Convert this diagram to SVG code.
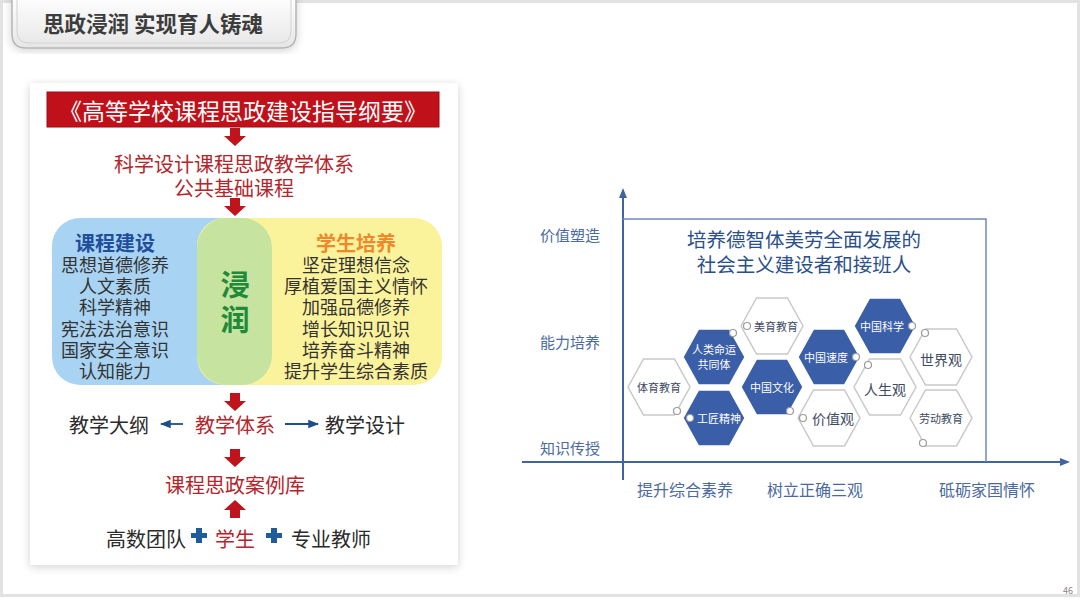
<svg xmlns="http://www.w3.org/2000/svg" width="1080" height="599" viewBox="0 0 1080 599">
<defs>
<style>
text{font-family:"Noto Sans CJK SC","Noto Sans",sans-serif;text-anchor:middle;dominant-baseline:central}
.red{fill:#b3262c;font-size:20px}
.blk{fill:#2b2b2b;font-size:20px}
.item{fill:#333;font-size:18px}
.ax{fill:#4a6aa0;font-size:15px}
.axb{fill:#4a6aa0;font-size:16px}
.hw{fill:#fff;stroke:#c9c9c9;stroke-width:1.5}
.hb{fill:#3a5ea8;stroke:#fff;stroke-width:1.5}
.tw{fill:#3d4a63;font-size:11px}
.tb{fill:#fff;font-size:11px}
.tl{fill:#3d4a63;font-size:14px}
.dot{fill:#fff;stroke:#9a9a9a;stroke-width:1.2}
.ra{fill:#c0141c}
</style>
<linearGradient id="tab" x1="0" y1="0" x2="0" y2="1">
<stop offset="0" stop-color="#ffffff"/><stop offset="1" stop-color="#e6e6e6"/>
</linearGradient>
<filter id="sh" x="-10%" y="-10%" width="120%" height="120%">
<feGaussianBlur in="SourceAlpha" stdDeviation="5"/><feOffset dx="0" dy="2"/>
<feComponentTransfer><feFuncA type="linear" slope="0.18"/></feComponentTransfer>
<feMerge><feMergeNode/><feMergeNode in="SourceGraphic"/></feMerge>
</filter>
<path id="hex" d="M-31,0 L-15.5,-28 L15.5,-28 L31,0 L15.5,28 L-15.5,28 Z"/>
<path id="darr" d="M-5,0 h10 v8 h6 l-11,10 l-11,-10 h6 z"/>
<marker id="bl" viewBox="0 0 10 10" refX="9" refY="5" markerWidth="6" markerHeight="6" orient="auto-start-reverse">
<path d="M0,1 L10,5 L0,9 z" fill="#1f4e8c"/>
</marker>
<marker id="axa" viewBox="0 0 10 10" refX="8" refY="5" markerWidth="5" markerHeight="5" orient="auto">
<path d="M0,1 L10,5 L0,9 z" fill="#3f64a0"/>
</marker>
</defs>

<rect x="0" y="0" width="1080" height="599" fill="#ffffff"/>
<rect x="1.5" y="1.5" width="1077" height="594" fill="none" stroke="#e2e2e2" stroke-width="3"/>

<g id="title">
<path d="M12,-5 H296 V34 Q296,48 282,48 H26 Q12,48 12,34 Z" fill="url(#tab)" stroke="#b5b5b5" stroke-width="1.5" filter="url(#sh)"/>
<path d="M17,-5 V31 Q17,43 29,43 H279 Q291,43 291,31 V-5" fill="none" stroke="#d2d2d2" stroke-width="1"/>
<text x="153" y="22" style="font-size:21.5px;font-weight:bold;fill:#3c3c3c">思政浸润 实现育人铸魂</text>
</g>

<g id="left-panel">
<rect x="30" y="83" width="428" height="482" fill="#fff" filter="url(#sh)"/>
</g>

<g id="banner">
<rect x="47" y="92" width="392" height="35" fill="#c0111a" stroke="#9e0c14" stroke-width="1"/>
<text x="243" y="110" style="font-size:23px;fill:#fff">《高等学校课程思政建设指导纲要》</text>
</g>

<g id="design">
<text class="red" x="234" y="163">科学设计课程思政教学体系</text>
<text class="red" x="234" y="187">公共基础课程</text>
</g>

<g id="course">
<rect x="52" y="218" width="220" height="167" rx="28" fill="#a9d3f2"/>
<text x="115" y="242" style="font-size:20px;font-weight:bold;fill:#1f4e9c">课程建设</text>
<text class="item" x="115" y="264">思想道德修养</text>
<text class="item" x="115" y="285">人文素质</text>
<text class="item" x="115" y="306">科学精神</text>
<text class="item" x="115" y="328">宪法法治意识</text>
<text class="item" x="115" y="349">国家安全意识</text>
<text class="item" x="115" y="370">认知能力</text>
</g>

<g id="student">
<rect x="197" y="218" width="245" height="167" rx="28" fill="#fbf29c"/>
<text x="356" y="242" style="font-size:20px;font-weight:bold;fill:#f0872a">学生培养</text>
<text class="item" x="356" y="264">坚定理想信念</text>
<text class="item" x="356" y="285">厚植爱国主义情怀</text>
<text class="item" x="356" y="306">加强品德修养</text>
<text class="item" x="356" y="328">增长知识见识</text>
<text class="item" x="356" y="349">培养奋斗精神</text>
<text class="item" x="356" y="370">提升学生综合素质</text>
</g>

<g id="immerse">
<rect x="197" y="218" width="75" height="167" rx="30" fill="#c6e4a0"/>
<text x="235" y="283" style="font-size:29px;font-weight:bold;fill:#1e8a3a">浸</text>
<text x="235" y="318" style="font-size:29px;font-weight:bold;fill:#1e8a3a">润</text>
</g>

<g id="system">
<text class="blk" x="109" y="424">教学大纲</text>
<text class="red" x="235" y="424">教学体系</text>
<text class="blk" x="365" y="424">教学设计</text>
</g>

<g id="caselib">
<text class="red" x="235" y="484">课程思政案例库</text>
</g>

<g id="team">
<text class="blk" x="146" y="538">高数团队</text>
<text class="red" x="235" y="538">学生</text>
<text class="blk" x="331" y="538">专业教师</text>
<path d="M196,531 h6 v5 h5 v5 h-5 v5 h-6 v-5 h-5 v-5 h5 z" fill="#1f5c9c" transform="translate(0,-3)"/>
<path d="M271,531 h6 v5 h5 v5 h-5 v5 h-6 v-5 h-5 v-5 h5 z" fill="#1f5c9c" transform="translate(0,-3)"/>
</g>

<g id="connectors">
<use href="#darr" class="ra" x="235" y="128"/>
<use href="#darr" class="ra" x="235" y="198"/>
<use href="#darr" class="ra" x="235" y="393"/>
<use href="#darr" class="ra" x="235" y="449"/>
<use href="#darr" class="ra" transform="translate(235,518) scale(1,-1)"/>
<line x1="183" y1="424" x2="161" y2="424" stroke="#1f4e8c" stroke-width="1.8" marker-end="url(#bl)"/>
<line x1="285" y1="424" x2="318" y2="424" stroke="#1f4e8c" stroke-width="1.8" marker-end="url(#bl)"/>
<line x1="623" y1="480" x2="623" y2="190" stroke="#3f64a0" stroke-width="2" marker-end="url(#axa)"/>
<line x1="522" y1="462" x2="1068" y2="462" stroke="#3f64a0" stroke-width="2" marker-end="url(#axa)"/>
</g>

<g id="chart-frame">
<polyline points="623,219 986,219 986,462" fill="none" stroke="#7088b8" stroke-width="1.5"/>
<text class="ax" x="570" y="234">价值塑造</text>
<text class="ax" x="570" y="341">能力培养</text>
<text class="ax" x="570" y="447">知识传授</text>
<text class="axb" x="685" y="489">提升综合素养</text>
<text class="axb" x="815" y="489">树立正确三观</text>
<text class="axb" x="987" y="489">砥砺家国情怀</text>
<text x="804" y="238" style="font-size:19.5px;fill:#2a4f8a">培养德智体美劳全面发展的</text>
<text x="804" y="263" style="font-size:19.5px;fill:#2a4f8a">社会主义建设者和接班人</text>
</g>

<g id="hex-tiyu"><use href="#hex" class="hw" x="659" y="387"/><text class="tw" x="659" y="387">体育教育</text><circle class="dot" cx="677" cy="411" r="3.5"/></g>
<g id="hex-renlei"><use href="#hex" class="hb" x="714" y="357"/><text class="tb" x="714" y="349">人类命运</text><text class="tb" x="714" y="364">共同体</text><circle class="dot" cx="733" cy="333" r="3.5"/></g>
<g id="hex-gongjiang"><use href="#hex" class="hb" x="714" y="418"/><text class="tb" x="719" y="418">工匠精神</text><circle class="dot" cx="690" cy="418" r="3.5"/></g>
<g id="hex-meiyu"><use href="#hex" class="hw" x="772" y="326"/><text class="tw" x="776" y="326">美育教育</text><circle class="dot" cx="747" cy="326" r="3.5"/></g>
<g id="hex-wenhua"><use href="#hex" class="hb" x="772" y="387"/><text class="tb" x="772" y="387">中国文化</text><circle class="dot" cx="790" cy="411" r="3.5"/></g>
<g id="hex-sudu"><use href="#hex" class="hb" x="829" y="357"/><text class="tb" x="826" y="357">中国速度</text><circle class="dot" cx="856" cy="357" r="3.5"/></g>
<g id="hex-jiazhi"><use href="#hex" class="hw" x="829" y="418"/><text class="tl" x="833" y="418">价值观</text><circle class="dot" cx="803" cy="418" r="3.5"/></g>
<g id="hex-kexue"><use href="#hex" class="hb" x="885" y="326"/><text class="tb" x="882" y="326">中国科学</text><circle class="dot" cx="912" cy="326" r="3.5"/></g>
<g id="hex-rensheng"><use href="#hex" class="hw" x="885" y="387"/><text class="tl" x="885" y="389">人生观</text><circle class="dot" cx="868" cy="365" r="3.5"/></g>
<g id="hex-shijie"><use href="#hex" class="hw" x="941" y="357"/><text class="tl" x="941" y="359">世界观</text><circle class="dot" cx="925" cy="333" r="3.5"/></g>
<g id="hex-laodong"><use href="#hex" class="hw" x="941" y="418"/><text class="tw" x="941" y="418">劳动教育</text><circle class="dot" cx="923" cy="443" r="3.5"/></g>

<text x="1068" y="590" style="font-size:9px;fill:#888">46</text>
</svg>
